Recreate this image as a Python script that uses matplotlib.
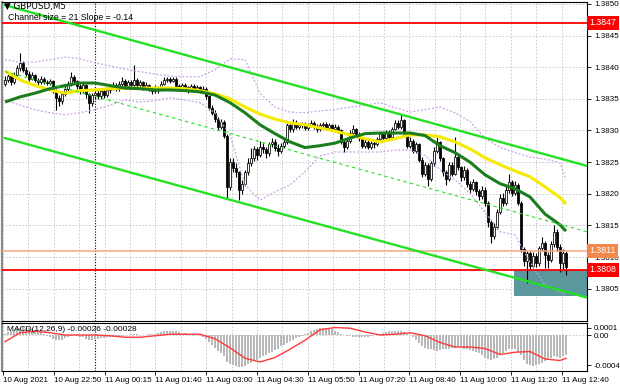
import matplotlib
matplotlib.use('Agg')
import matplotlib.pyplot as plt
import matplotlib.transforms as mtransforms
from matplotlib.patches import Rectangle

FONT = ['Liberation Sans Narrow', 'Liberation Sans', 'DejaVu Sans']
plt.rcParams['font.family'] = FONT

# ---------------- data ----------------
first_open = 1.38374
closes = [
    1.38380, 1.38386, 1.38376, 1.38388, 1.38398, 1.38406, 1.38396, 1.38390, 1.38382, 1.38388,
    1.38380, 1.38376, 1.38382, 1.38376, 1.38375, 1.38378, 1.38364, 1.38352, 1.38346, 1.38358,
    1.38366, 1.38374, 1.38384, 1.38378, 1.38370, 1.38364, 1.38372, 1.38358, 1.38344, 1.38356,
    1.38360, 1.38354, 1.38362, 1.38356, 1.38364, 1.38368, 1.38372, 1.38366, 1.38374, 1.38378,
    1.38370, 1.38376, 1.38372, 1.38380, 1.38372, 1.38376, 1.38368, 1.38372, 1.38366, 1.38362,
    1.38368, 1.38364, 1.38374, 1.38380, 1.38382, 1.38378, 1.38382, 1.38370, 1.38366, 1.38372,
    1.38368, 1.38364, 1.38370, 1.38366, 1.38368, 1.38362, 1.38366, 1.38354, 1.38336, 1.38328,
    1.38318, 1.38306, 1.38314, 1.38292, 1.38210, 1.38250, 1.38240, 1.38234, 1.38206, 1.38216,
    1.38234, 1.38248, 1.38256, 1.38270, 1.38262, 1.38274, 1.38270, 1.38264, 1.38278, 1.38282,
    1.38272, 1.38268, 1.38276, 1.38282, 1.38308, 1.38302, 1.38312, 1.38306, 1.38308, 1.38310,
    1.38304, 1.38308, 1.38312, 1.38306, 1.38302, 1.38308, 1.38310, 1.38304, 1.38308, 1.38302,
    1.38306, 1.38300, 1.38282, 1.38274, 1.38284, 1.38296, 1.38302, 1.38294, 1.38288, 1.38276,
    1.38282, 1.38274, 1.38280, 1.38278, 1.38286, 1.38294, 1.38288, 1.38296, 1.38290, 1.38302,
    1.38312, 1.38306, 1.38316, 1.38296, 1.38276, 1.38284, 1.38268, 1.38278, 1.38254, 1.38232,
    1.38246, 1.38224, 1.38248, 1.38268, 1.38282, 1.38256, 1.38234, 1.38224, 1.38246, 1.38232,
    1.38258, 1.38242, 1.38226, 1.38238, 1.38216, 1.38208, 1.38218, 1.38204, 1.38196, 1.38206,
    1.38186, 1.38156, 1.38134, 1.38148, 1.38172, 1.38194, 1.38186, 1.38206, 1.38218, 1.38202,
    1.38214, 1.38186, 1.38112, 1.38094, 1.38106, 1.38086, 1.38102, 1.38090, 1.38114, 1.38122,
    1.38104, 1.38096, 1.38120, 1.38140, 1.38116, 1.38090, 1.38106, 1.38084,
]
highs = [
    1.38386, 1.38390, 1.38389, 1.38392, 1.38404, 1.38423, 1.38410, 1.38400, 1.38394, 1.38392,
    1.38390, 1.38383, 1.38386, 1.38384, 1.38379, 1.38381, 1.38380, 1.38366, 1.38356, 1.38362,
    1.38370, 1.38378, 1.38392, 1.38388, 1.38380, 1.38374, 1.38376, 1.38374, 1.38360, 1.38360,
    1.38366, 1.38364, 1.38366, 1.38366, 1.38368, 1.38372, 1.38376, 1.38375, 1.38378, 1.38384,
    1.38381, 1.38380, 1.38380, 1.38404, 1.38383, 1.38380, 1.38378, 1.38376, 1.38374, 1.38369,
    1.38372, 1.38371, 1.38378, 1.38384, 1.38385, 1.38385, 1.38385, 1.38384, 1.38373, 1.38375,
    1.38375, 1.38371, 1.38374, 1.38373, 1.38372, 1.38370, 1.38370, 1.38368, 1.38356, 1.38340,
    1.38332, 1.38322, 1.38318, 1.38316, 1.38294, 1.38256, 1.38256, 1.38248, 1.38236, 1.38222,
    1.38238, 1.38256, 1.38272, 1.38276, 1.38274, 1.38284, 1.38280, 1.38274, 1.38282, 1.38288,
    1.38286, 1.38278, 1.38280, 1.38288, 1.38312, 1.38314, 1.38318, 1.38316, 1.38312, 1.38314,
    1.38313, 1.38312, 1.38316, 1.38315, 1.38310, 1.38312, 1.38314, 1.38313, 1.38312, 1.38310,
    1.38310, 1.38309, 1.38302, 1.38286, 1.38288, 1.38300, 1.38308, 1.38304, 1.38298, 1.38290,
    1.38286, 1.38285, 1.38284, 1.38284, 1.38290, 1.38298, 1.38298, 1.38300, 1.38300, 1.38306,
    1.38316, 1.38316, 1.38326, 1.38318, 1.38298, 1.38290, 1.38286, 1.38282, 1.38280, 1.38258,
    1.38250, 1.38248, 1.38252, 1.38274, 1.38290, 1.38284, 1.38258, 1.38238, 1.38250, 1.38250,
    1.38290, 1.38262, 1.38244, 1.38244, 1.38240, 1.38220, 1.38224, 1.38220, 1.38208, 1.38212,
    1.38210, 1.38188, 1.38158, 1.38154, 1.38176, 1.38200, 1.38202, 1.38214, 1.38232, 1.38222,
    1.38220, 1.38217, 1.38188, 1.38116, 1.38110, 1.38110, 1.38108, 1.38106, 1.38118, 1.38132,
    1.38126, 1.38108, 1.38126, 1.38151, 1.38144, 1.38120, 1.38112, 1.38110,
]
lows = [
    1.38370, 1.38376, 1.38372, 1.38374, 1.38386, 1.38394, 1.38392, 1.38386, 1.38378, 1.38379,
    1.38376, 1.38372, 1.38373, 1.38373, 1.38372, 1.38372, 1.38360, 1.38332, 1.38338, 1.38342,
    1.38354, 1.38362, 1.38370, 1.38374, 1.38366, 1.38358, 1.38360, 1.38352, 1.38328, 1.38338,
    1.38350, 1.38350, 1.38350, 1.38352, 1.38353, 1.38360, 1.38364, 1.38362, 1.38363, 1.38370,
    1.38366, 1.38367, 1.38368, 1.38369, 1.38368, 1.38369, 1.38364, 1.38365, 1.38362, 1.38358,
    1.38359, 1.38360, 1.38362, 1.38372, 1.38377, 1.38375, 1.38376, 1.38367, 1.38362, 1.38364,
    1.38365, 1.38360, 1.38362, 1.38363, 1.38363, 1.38359, 1.38359, 1.38350, 1.38332, 1.38324,
    1.38313, 1.38300, 1.38302, 1.38288, 1.38192, 1.38206, 1.38234, 1.38226, 1.38190, 1.38200,
    1.38212, 1.38230, 1.38244, 1.38252, 1.38254, 1.38258, 1.38264, 1.38256, 1.38260, 1.38274,
    1.38268, 1.38260, 1.38264, 1.38272, 1.38278, 1.38298, 1.38298, 1.38302, 1.38302, 1.38304,
    1.38300, 1.38300, 1.38305, 1.38302, 1.38298, 1.38299, 1.38305, 1.38300, 1.38301, 1.38299,
    1.38299, 1.38296, 1.38278, 1.38266, 1.38270, 1.38280, 1.38292, 1.38290, 1.38284, 1.38272,
    1.38272, 1.38270, 1.38270, 1.38273, 1.38275, 1.38282, 1.38284, 1.38285, 1.38286, 1.38288,
    1.38300, 1.38302, 1.38303, 1.38292, 1.38272, 1.38272, 1.38264, 1.38264, 1.38250, 1.38226,
    1.38228, 1.38212, 1.38220, 1.38244, 1.38264, 1.38252, 1.38228, 1.38214, 1.38220, 1.38228,
    1.38230, 1.38238, 1.38220, 1.38222, 1.38210, 1.38202, 1.38204, 1.38198, 1.38190, 1.38192,
    1.38180, 1.38148, 1.38122, 1.38128, 1.38144, 1.38168, 1.38180, 1.38182, 1.38202, 1.38196,
    1.38198, 1.38182, 1.38108, 1.38086, 1.38059, 1.38080, 1.38082, 1.38084, 1.38086, 1.38110,
    1.38082, 1.38082, 1.38092, 1.38116, 1.38110, 1.38076, 1.38080, 1.38072,
]
opens = [first_open] + closes[:-1]   # each bar opens at the previous close

# indicator lines sampled every 5 bars
ind_x = [0, 5, 10, 15, 20, 25, 30, 35, 40, 45, 50, 55, 60, 65, 70, 75, 80, 85, 90, 95,
         100, 105, 110, 115, 120, 125, 130, 135, 140, 145, 150, 155, 160, 165, 170, 175,
         180, 185, 187]
ma_slow = [1.38394, 1.38380, 1.38371, 1.38364, 1.38359, 1.38363, 1.38364, 1.38366, 1.38367,
           1.38367, 1.38367, 1.38367, 1.38366, 1.38363, 1.38358, 1.38350, 1.38337, 1.38326,
           1.38318, 1.38312, 1.38309, 1.38304, 1.38299, 1.38293, 1.38287, 1.38282, 1.38287,
           1.38293, 1.38293, 1.38290, 1.38282, 1.38271, 1.38257, 1.38246, 1.38236, 1.38227,
           1.38211, 1.38194, 1.38184]
ma_fast = [1.38345, 1.38353, 1.38359, 1.38366, 1.38371, 1.38375, 1.38375, 1.38371, 1.38367,
           1.38366, 1.38364, 1.38364, 1.38363, 1.38361, 1.38356, 1.38344, 1.38328, 1.38309,
           1.38295, 1.38282, 1.38273, 1.38276, 1.38280, 1.38288, 1.38295, 1.38296, 1.38296,
           1.38296, 1.38292, 1.38276, 1.38265, 1.38250, 1.38230, 1.38216, 1.38208, 1.38195,
           1.38168, 1.38151, 1.38141]
band_upper = [1.38412, 1.38408, 1.38408, 1.38412, 1.38416, 1.38413, 1.38407, 1.38402, 1.38397,
              1.38393, 1.38389, 1.38386, 1.38385, 1.38385, 1.38396, 1.38413, 1.38412, 1.38359,
              1.38337, 1.38329, 1.38328, 1.38331, 1.38333, 1.38337, 1.38340, 1.38344, 1.38336,
              1.38329, 1.38333, 1.38337, 1.38328, 1.38314, 1.38288, 1.38273, 1.38265, 1.38258,
              1.38255, 1.38249, 1.38222]
band_lower = [1.38348, 1.38340, 1.38333, 1.38328, 1.38325, 1.38328, 1.38333, 1.38340, 1.38348,
              1.38345, 1.38347, 1.38352, 1.38348, 1.38344, 1.38328, 1.38293, 1.38214, 1.38190,
              1.38203, 1.38214, 1.38235, 1.38260, 1.38266, 1.38266, 1.38266, 1.38266, 1.38269,
              1.38269, 1.38261, 1.38238, 1.38222, 1.38201, 1.38171, 1.38140, 1.38135, 1.38092,
              1.38056, 1.38045, 1.38039]

# trend channel (value at first bar / at right edge)
channel_x = [0, 194]
channel_upper = [1.38498, 1.38244]
channel_mid = [1.38393, 1.38140]
channel_lower = [1.38288, 1.38036]

# horizontal levels
level_red_top = 1.3847
level_orange = 1.3811
level_red_low = 1.3808
zone_x = [169.7, 194]
zone_y = [1.38039, 1.3808]

# MACD(12,26,9)
macd_main = [
    0.00002, 0.00004, 0.00005, 0.00007, 0.00009, 0.00010, 0.00011, 0.00010, 0.00009, 0.00008,
    0.00007, 0.00006, 0.00004, 0.00002, -0.00001, -0.00003, -0.00005, -0.00007, -0.00007, -0.00006,
    -0.00004, -0.00003, -0.00001, 0.00000, -0.00001, -0.00002, -0.00003, -0.00005, -0.00006, -0.00006,
    -0.00005, -0.00005, -0.00004, -0.00004, -0.00003, -0.00003, -0.00002, -0.00002, -0.00001, -0.00001,
    0.00000, 0.00000, 0.00001, 0.00001, 0.00001, 0.00000, 0.00000, 0.00000, 0.00001, 0.00001,
    0.00002, 0.00003, 0.00004, 0.00005, 0.00005, 0.00006, 0.00005, 0.00005, 0.00004, 0.00003,
    0.00003, 0.00002, 0.00002, 0.00001, 0.00000, -0.00001, -0.00002, -0.00005, -0.00009, -0.00013,
    -0.00017, -0.00021, -0.00024, -0.00028, -0.00036, -0.00038, -0.00040, -0.00041, -0.00043, -0.00042,
    -0.00041, -0.00039, -0.00037, -0.00035, -0.00033, -0.00030, -0.00028, -0.00026, -0.00024, -0.00022,
    -0.00020, -0.00018, -0.00015, -0.00013, -0.00010, -0.00008, -0.00006, -0.00004, -0.00002, -0.00001,
    0.00001, 0.00003, 0.00005, 0.00007, 0.00008, 0.00009, 0.00010, 0.00010, 0.00009, 0.00008,
    0.00006, 0.00004, 0.00002, 0.00000, -0.00001, -0.00001, -0.00002, -0.00002, -0.00003, -0.00003,
    -0.00003, -0.00002, -0.00001, 0.00000, 0.00001, 0.00002, 0.00003, 0.00004, 0.00005, 0.00006,
    0.00006, 0.00006, 0.00005, 0.00004, 0.00002, 0.00000, -0.00003, -0.00006, -0.00010, -0.00014,
    -0.00017, -0.00018, -0.00019, -0.00020, -0.00021, -0.00020, -0.00019, -0.00018, -0.00018, -0.00017,
    -0.00017, -0.00016, -0.00017, -0.00018, -0.00019, -0.00020, -0.00021, -0.00022, -0.00024, -0.00027,
    -0.00030, -0.00032, -0.00033, -0.00032, -0.00030, -0.00027, -0.00024, -0.00021, -0.00019, -0.00018,
    -0.00019, -0.00022, -0.00027, -0.00033, -0.00038, -0.00040, -0.00041, -0.00040, -0.00039, -0.00037,
    -0.00035, -0.00033, -0.00030, -0.00028, -0.00029, -0.00030, -0.00028, -0.00026,
]
macd_signal = [-0.00009, 0.00003, 0.00005, 0.00003, 0.00000, 0.00000, 0.00000, -0.00001, -0.00003,
               -0.00003, -0.00001, 0.00001, 0.00001, 0.00001, -0.00005, -0.00017, -0.00031, -0.00036,
               -0.00030, -0.00019, -0.00007, 0.00007, 0.00010, 0.00009, 0.00004, 0.00000, 0.00001,
               0.00003, -0.00001, -0.00010, -0.00016, -0.00016, -0.00018, -0.00026, -0.00023,
               -0.00022, -0.00032, -0.00034, -0.00031]

time_labels = ['10 Aug 2021', '10 Aug 22:50', '11 Aug 00:15', '11 Aug 01:40', '11 Aug 03:00',
               '11 Aug 04:30', '11 Aug 05:50', '11 Aug 07:20', '11 Aug 08:40', '11 Aug 10:00',
               '11 Aug 11:20', '11 Aug 12:40']
price_ticks = [1.3805, 1.3810, 1.3815, 1.3820, 1.3825, 1.3830, 1.3835, 1.3840, 1.3845, 1.3850]
day_separator = 30

# ---------------- layout ----------------
W, H = 620, 388
fig = plt.figure(figsize=(6.2, 3.88), dpi=100)
fig.patch.set_facecolor('white')
L, R = 2 / W, 587 / W
ax = fig.add_axes([L, 1 - 321 / H, R - L, (321 - 2) / H])
ax2 = fig.add_axes([L, 1 - 371 / H, R - L, (371 - 323) / H], sharex=ax)

XMIN, XMAX = -1, 194
ax.set_xlim(XMIN, XMAX)
ax.set_ylim(1.37999, 1.38503)
ax2.set_ylim(-0.00048, 0.00016)

FS = 5.8
grid_kw = dict(color='#c4c4c4', lw=0.6, ls=(0, (2, 2)), zorder=0)
label_step = 16.93
tick_pos = [-0.67 + label_step * k for k in range(len(time_labels))]
grid_pos = [-0.67 + label_step / 2 * k for k in range(2 * len(time_labels) + 1)]
for a in (ax, ax2):
    for gx in grid_pos:
        a.axvline(gx, **grid_kw)
    a.axvline(day_separator, color='black', lw=0.8, ls=(0, (1, 1.5)), zorder=1)
for p in price_ticks:
    ax.axhline(p, **grid_kw)
ax2.axhline(0, **grid_kw)

# zone rectangle
ax.add_patch(Rectangle((zone_x[0], zone_y[0]), zone_x[1] - zone_x[0], zone_y[1] - zone_y[0],
                       facecolor='#5a989d', edgecolor='none', zorder=1))

# horizontal levels
ax.axhline(level_red_top, color='#ff0000', lw=1.3, zorder=5)
ax.axhline(level_orange, color='#f7a57c', lw=1.1, zorder=5)
ax.axhline(level_red_low, color='#ff0000', lw=1.3, zorder=5)

# candles
idx = list(range(len(closes)))
ax.vlines(idx, lows, highs, color='black', lw=0.8, zorder=2)
bw = 0.72
for i in idx:
    o, c = opens[i], closes[i]
    bottom = min(o, c)
    height = max(abs(c - o), 0.000006)
    fc = 'white' if c >= o else 'black'
    ax.add_patch(Rectangle((i - bw / 2, bottom), bw, height, facecolor=fc,
                           edgecolor='black', lw=0.55, zorder=3))

# indicators
ax.plot(ind_x, band_upper, color='#c9a0e6', lw=0.9, ls=(0, (1.5, 1.5)), zorder=4)
ax.plot(ind_x, band_lower, color='#c9a0e6', lw=0.9, ls=(0, (1.5, 1.5)), zorder=4)
ax.plot(ind_x, ma_slow, color='#f5ea00', lw=2.2, zorder=4, solid_capstyle='butt')
ax.plot(ind_x, ma_fast, color='#1c7d1c', lw=2.2, zorder=4, solid_capstyle='butt')

# channel
ax.plot(channel_x, channel_upper, color='#22e022', lw=1.7, zorder=6)
ax.plot(channel_x, channel_lower, color='#22e022', lw=1.7, zorder=6)
ax.plot(channel_x, channel_mid, color='#22e022', lw=0.8, ls=(0, (3, 3)), zorder=6)

# price axis
ax.yaxis.tick_right()
ax.set_yticks(price_ticks)
ax.set_yticklabels([f'{p:.4f}' for p in price_ticks])
ax.tick_params(axis='y', length=3, width=0.6, labelsize=FS, pad=2, colors='black')
ax.tick_params(axis='x', bottom=False, labelbottom=False, top=False)

trans = mtransforms.blended_transform_factory(ax.transAxes, ax.transData)
for lev, col in ((level_red_top, '#ff0000'), (level_orange, '#f0894a'), (level_red_low, '#ff0000')):
    ax.text(1.004, lev, f'{lev:.4f}', transform=trans, ha='left', va='center', fontsize=6.3,
            color='white', zorder=10, clip_on=False,
            bbox=dict(boxstyle='square,pad=0.3', fc=col, ec='none'))

# texts
fig.text(4 / W, 1 - 6 / H, '\u25bc GBPUSD,M5', fontsize=6.3, va='center', ha='left',
         family=['Liberation Sans Narrow', 'DejaVu Sans'])
fig.text(8 / W, 1 - 18 / H, 'Channel size = 21 Slope = -0.14', fontsize=6.3, va='center', ha='left')

# MACD
ax2.bar(idx, macd_main, width=0.5, color='#b8b8b8', zorder=2)
ax2.plot(ind_x, macd_signal, color='#ff3a3a', lw=1.0, zorder=3)
ax2.text(5 / W / (R - L), 0.86, 'MACD(12,26,9) -0.00026 -0.00028', transform=ax2.transAxes,
         fontsize=6.0, va='center', ha='left', zorder=5)
ax2.yaxis.tick_right()
ax2.set_yticks([0.0001, 0.0, -0.0004])
ax2.set_yticklabels(['0.0001', '0.00', '-0.0004'])
ax2.tick_params(axis='y', length=3, width=0.6, labelsize=FS, pad=2)
ax2.set_xticks(tick_pos)
ax2.set_xticklabels(time_labels, ha='left')
ax2.tick_params(axis='x', length=3, width=0.6, labelsize=FS, pad=1.5)

for a in (ax, ax2):
    for s in a.spines.values():
        s.set_linewidth(0.8)
        s.set_color('black')
    a.spines['left'].set_color('#8a8a8a')
    a.spines['left'].set_linewidth(1.6)

fig.savefig('out.png', dpi=100)
